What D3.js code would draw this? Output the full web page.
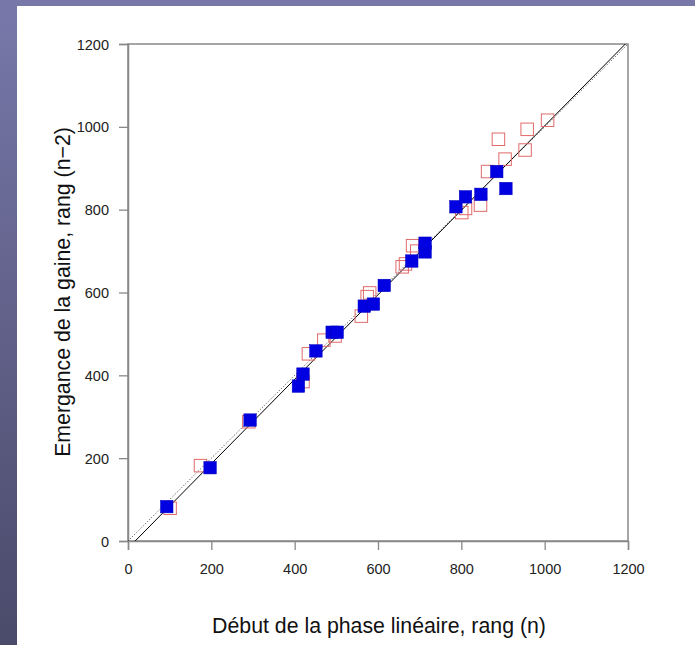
<!DOCTYPE html>
<html>
<head>
<meta charset="utf-8">
<script src="https://cdn.jsdelivr.net/npm/d3@7"></script>
<style>
html,body{margin:0;padding:0;}
body{width:695px;height:645px;overflow:hidden;background:#fff;}
svg{display:block;font-family:"Liberation Sans", Arial, Helvetica, sans-serif;}
</style>
</head>
<body>
<svg id="chart" width="695" height="645"></svg>
<script>
// Data
const xTicks = [0, 200, 400, 600, 800, 1000, 1200];
const yTicks = [0, 200, 400, 600, 800, 1000, 1200];
const blueX = [93, 197, 293, 409, 420, 451, 490, 502, 567, 589, 615, 681, 713, 713, 787, 810, 847, 885, 907];
const blueY = [83, 177, 292, 374, 403, 459, 504, 504, 567, 572, 617, 676, 698, 719, 807, 831, 837, 892, 851];
const redX = [101, 174, 290, 420, 433, 470, 497, 560, 574, 580, 658, 666, 683, 693, 801, 810, 846, 863, 889, 905, 953, 958, 1007];
const redY = [79, 182, 288, 385, 452, 485, 495, 543, 590, 599, 662, 669, 713, 700, 793, 803, 811, 892, 970, 922, 944, 994, 1016];
const regSlope = 1.02, regIntercept = -17.5;
const xTitle = "Début de la phase linéaire, rang (n)";
const yTitle = "Emergance de la gaine, rang (n\u22122)";

const svg = d3.select("#chart");

// background frame (purple border on top and left)
const defs = svg.append("defs");
const grad = defs.append("linearGradient").attr("id","lg").attr("x1",0).attr("y1",0).attr("x2",0).attr("y2",1);
grad.append("stop").attr("offset","0%").attr("stop-color","#7878aa");
grad.append("stop").attr("offset","100%").attr("stop-color","#4a4a6a");
svg.append("rect").attr("x",0).attr("y",0).attr("width",695).attr("height",645).attr("fill","url(#lg)");
svg.append("rect").attr("x",0).attr("y",0).attr("width",695).attr("height",6).attr("fill","#7777a8");
svg.append("rect").attr("x",17).attr("y",6).attr("width",678).attr("height",639).attr("fill","#ffffff");

const L = 128, R = 628, T = 44, B = 541;
const x = d3.scaleLinear().domain([0,1200]).range([L,R]);
const y = d3.scaleLinear().domain([0,1200]).range([B,T]);

const axisColor = "#888";
// frame
svg.append("rect").attr("x",L).attr("y",T).attr("width",R-L).attr("height",B-T)
  .attr("fill","none").attr("stroke",axisColor).attr("stroke-width",1.5);

const xAxis = svg.append("g").attr("transform",`translate(0,${B})`)
  .call(d3.axisBottom(x).tickValues(xTicks).tickSize(9).tickPadding(21).tickFormat(d3.format("d")));
const yAxis = svg.append("g").attr("transform",`translate(${L},0)`)
  .call(d3.axisLeft(y).tickValues(yTicks).tickSize(9).tickPadding(10).tickFormat(d3.format("d")));
[xAxis,yAxis].forEach(g=>{
  g.select(".domain").attr("stroke",axisColor).attr("stroke-width",1.5);
  g.selectAll(".tick line").attr("stroke",axisColor).attr("stroke-width",1.3);
  g.selectAll("text").attr("fill","#222").attr("font-size",14.5).attr("font-family","Liberation Sans, Arial, sans-serif");
});
xAxis.selectAll("text").attr("dy","0.2em");
yAxis.selectAll("text").attr("dy","0.35em");

// reference line y = x (dotted)
const line = d3.line().x(d=>x(d[0])).y(d=>y(d[1]));
svg.append("path").datum([[0,0],[1200,1200]]).attr("d",line)
  .attr("fill","none").attr("stroke","#333").attr("stroke-width",1).attr("stroke-dasharray","1,2");
// regression line (solid)
const x0 = (0 - regIntercept)/regSlope, x1 = (1200 - regIntercept)/regSlope;
svg.append("path").datum([[x0,0],[x1,1200]]).attr("d",line)
  .attr("fill","none").attr("stroke","#000").attr("stroke-width",1);

const s = 12.5;
const red = redX.map((v,i)=>[v,redY[i]]);
const blue = blueX.map((v,i)=>[v,blueY[i]]);
svg.append("g").selectAll("rect").data(red).join("rect")
  .attr("x",d=>x(d[0])-s/2).attr("y",d=>y(d[1])-s/2).attr("width",s).attr("height",s)
  .attr("fill","none").attr("stroke","#e06a6a").attr("stroke-width",1);
svg.append("g").selectAll("rect").data(blue).join("rect")
  .attr("x",d=>x(d[0])-s/2).attr("y",d=>y(d[1])-s/2).attr("width",s).attr("height",s)
  .attr("fill","#0000e0").attr("stroke","#0000c0").attr("stroke-width",0.5);

// titles
svg.append("text").attr("x",379).attr("y",633).attr("text-anchor","middle")
  .attr("font-size",21.3).attr("fill","#111").text(xTitle);
svg.append("text").attr("transform","translate(70,292) rotate(-90)").attr("text-anchor","middle")
  .attr("font-size",21.3).attr("fill","#111").text(yTitle);
</script>
</body>
</html>
